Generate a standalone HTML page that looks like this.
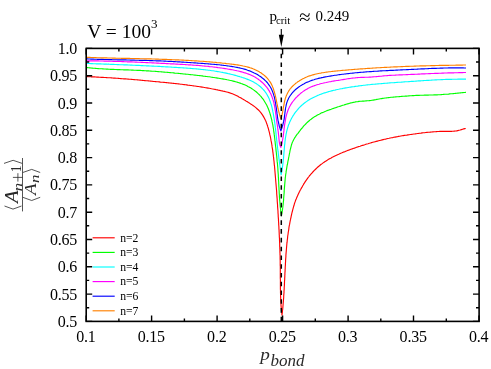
<!DOCTYPE html>
<html><head><meta charset="utf-8"><title>plot</title>
<style>html,body{margin:0;padding:0;background:#fff;}svg{display:block;will-change:transform;font-family:"Liberation Serif",serif;}text{fill:#000;}</style></head><body>
<svg width="491" height="369" viewBox="0 0 491 369">
<rect x="0" y="0" width="491" height="369" fill="#ffffff"/>
<g fill="none" stroke-width="1.15" stroke-linejoin="round" stroke-linecap="butt">
<path d="M86.2 76.6 L87.4 76.6 L88.6 76.7 L89.8 76.7 L91.0 76.8 L92.2 76.8 L93.4 76.9 L94.6 76.9 L95.8 77.0 L97.0 77.1 L98.2 77.1 L99.4 77.2 L100.6 77.3 L101.8 77.3 L103.0 77.4 L104.2 77.5 L105.4 77.5 L106.6 77.6 L107.8 77.7 L109.0 77.7 L110.2 77.8 L111.4 77.9 L112.6 78.0 L113.8 78.1 L115.0 78.1 L116.1 78.2 L117.3 78.3 L118.5 78.4 L119.7 78.5 L120.9 78.6 L122.1 78.7 L123.3 78.8 L124.5 78.8 L125.7 78.9 L126.9 79.0 L128.1 79.1 L129.3 79.2 L130.5 79.3 L131.7 79.4 L132.9 79.5 L134.1 79.6 L135.3 79.7 L136.5 79.8 L137.7 79.9 L138.9 80.0 L140.1 80.1 L141.3 80.3 L142.5 80.4 L143.7 80.5 L144.9 80.6 L146.0 80.7 L147.2 80.8 L148.4 80.9 L149.6 81.0 L150.8 81.1 L152.0 81.2 L153.2 81.4 L154.4 81.5 L155.6 81.6 L156.8 81.7 L158.0 81.8 L159.2 81.9 L160.4 82.1 L161.6 82.2 L162.8 82.3 L164.0 82.4 L165.2 82.5 L166.3 82.6 L167.5 82.8 L168.7 82.9 L169.9 83.0 L171.1 83.1 L172.3 83.3 L173.5 83.4 L174.7 83.5 L175.9 83.6 L177.1 83.8 L178.3 83.9 L179.5 84.0 L180.7 84.2 L181.9 84.3 L183.0 84.5 L184.2 84.6 L185.4 84.8 L186.6 84.9 L187.8 85.1 L189.0 85.2 L190.2 85.4 L191.4 85.5 L192.6 85.7 L193.8 85.9 L195.0 86.0 L196.2 86.2 L197.3 86.4 L198.5 86.5 L199.7 86.7 L200.9 86.9 L202.1 87.1 L203.3 87.3 L204.5 87.5 L205.7 87.7 L206.9 87.9 L208.1 88.1 L209.2 88.3 L210.4 88.5 L211.6 88.8 L212.8 89.0 L214.0 89.2 L215.1 89.4 L216.3 89.7 L217.5 89.9 L218.6 90.2 L219.8 90.4 L221.0 90.7 L222.1 90.9 L223.3 91.2 L224.4 91.4 L225.6 91.7 L226.7 92.0 L227.9 92.3 L229.0 92.6 L230.1 93.0 L231.2 93.4 L232.4 93.8 L233.5 94.2 L234.6 94.7 L235.7 95.2 L236.8 95.7 L237.9 96.3 L238.9 96.9 L240.0 97.4 L241.1 98.0 L242.2 98.7 L243.2 99.3 L244.3 99.9 L245.3 100.6 L246.3 101.2 L247.4 101.8 L248.4 102.5 L249.4 103.1 L250.4 103.8 L251.4 104.4 L252.4 105.1 L253.3 105.7 L254.3 106.4 L255.2 107.1 L256.1 107.9 L257.0 108.7 L257.9 109.5 L258.8 110.3 L259.6 111.2 L260.4 112.2 L261.2 113.1 L261.9 114.1 L262.6 115.1 L263.2 116.1 L263.8 117.1 L264.4 118.2 L264.9 119.2 L265.4 120.3 L265.9 121.3 L266.3 122.4 L266.7 123.5 L267.1 124.6 L267.5 125.7 L267.8 126.9 L268.2 128.0 L268.5 129.1 L268.8 130.3 L269.1 131.4 L269.4 132.6 L269.7 133.8 L269.9 134.9 L270.2 136.1 L270.5 137.3 L270.7 138.5 L270.9 139.7 L271.1 140.9 L271.4 142.1 L271.6 143.3 L271.8 144.5 L272.0 145.7 L272.1 146.9 L272.3 148.0 L272.5 149.2 L272.7 150.4 L272.8 151.6 L273.0 152.8 L273.1 154.0 L273.3 155.2 L273.4 156.4 L273.6 157.6 L273.7 158.8 L273.8 160.0 L274.0 161.2 L274.1 162.4 L274.2 163.6 L274.3 164.8 L274.5 166.0 L274.6 167.2 L274.7 168.4 L274.8 169.6 L274.9 170.8 L275.0 172.0 L275.1 173.2 L275.2 174.4 L275.3 175.6 L275.4 176.8 L275.5 178.0 L275.6 179.2 L275.7 180.4 L275.8 181.6 L275.9 182.7 L276.0 183.9 L276.1 185.1 L276.2 186.3 L276.3 187.5 L276.4 188.7 L276.5 189.9 L276.6 191.1 L276.7 192.3 L276.7 193.5 L276.8 194.7 L276.9 195.9 L277.0 197.1 L277.1 198.3 L277.2 199.5 L277.2 200.7 L277.3 201.9 L277.4 203.1 L277.5 204.3 L277.6 205.5 L277.6 206.7 L277.7 207.9 L277.8 209.1 L277.9 210.3 L278.0 211.5 L278.0 212.7 L278.1 213.9 L278.2 215.0 L278.2 216.2 L278.3 217.4 L278.4 218.6 L278.5 219.8 L278.5 221.0 L278.6 222.2 L278.7 223.4 L278.7 224.6 L278.8 225.8 L278.9 227.0 L278.9 228.2 L279.0 229.4 L279.1 230.6 L279.1 231.8 L279.2 233.0 L279.2 234.2 L279.3 235.4 L279.3 236.6 L279.4 237.8 L279.5 239.0 L279.5 240.2 L279.6 241.4 L279.6 242.6 L279.7 243.8 L279.7 245.0 L279.7 246.2 L279.8 247.4 L279.8 248.6 L279.9 249.8 L279.9 250.9 L279.9 252.1 L280.0 253.3 L280.0 254.5 L280.1 255.7 L280.1 256.9 L280.1 258.1 L280.1 259.3 L280.2 260.5 L280.2 261.7 L280.2 262.9 L280.2 264.1 L280.2 265.3 L280.3 266.5 L280.3 267.7 L280.3 268.9 L280.3 270.1 L280.3 271.3 L280.3 272.5 L280.3 273.7 L280.3 274.9 L280.3 276.1 L280.3 277.3 L280.3 278.5 L280.4 279.7 L280.4 280.9 L280.4 282.1 L280.4 283.3 L280.4 284.5 L280.4 285.7 L280.4 286.9 L280.4 288.1 L280.4 289.3 L280.5 290.5 L280.5 291.7 L280.5 292.9 L280.6 294.1 L280.6 295.3 L280.6 296.5 L280.7 297.7 L280.7 298.9 L280.8 300.1 L280.8 301.3 L280.9 302.5 L281.0 303.7 L281.0 304.9 L281.1 306.1 L281.2 307.3 L281.3 308.5 L281.4 309.7 L281.5 310.9 L281.7 312.1 L281.8 313.3 L281.9 314.5 L282.0 315.2 L282.1 314.0 L282.3 312.8 L282.4 311.6 L282.5 310.4 L282.7 309.3 L282.8 308.1 L282.9 306.9 L283.0 305.7 L283.1 304.5 L283.2 303.3 L283.3 302.1 L283.4 300.9 L283.5 299.7 L283.6 298.5 L283.7 297.3 L283.7 296.1 L283.8 294.9 L283.9 293.7 L284.0 292.5 L284.0 291.3 L284.1 290.1 L284.2 288.9 L284.2 287.7 L284.3 286.5 L284.4 285.3 L284.4 284.1 L284.5 282.9 L284.5 281.7 L284.6 280.5 L284.7 279.3 L284.7 278.1 L284.8 276.9 L284.8 275.7 L284.9 274.5 L284.9 273.3 L285.0 272.1 L285.1 270.9 L285.1 269.7 L285.2 268.5 L285.2 267.3 L285.3 266.1 L285.4 264.9 L285.4 263.7 L285.5 262.5 L285.6 261.3 L285.6 260.1 L285.7 258.9 L285.8 257.7 L285.9 256.5 L285.9 255.3 L286.0 254.1 L286.1 252.9 L286.2 251.7 L286.3 250.5 L286.4 249.3 L286.5 248.1 L286.6 246.9 L286.7 245.7 L286.8 244.6 L286.9 243.4 L287.1 242.2 L287.2 241.0 L287.3 239.8 L287.5 238.6 L287.6 237.4 L287.7 236.2 L287.9 235.0 L288.1 233.8 L288.2 232.6 L288.4 231.5 L288.6 230.3 L288.8 229.1 L288.9 227.9 L289.1 226.7 L289.3 225.5 L289.6 224.4 L289.8 223.2 L290.0 222.0 L290.2 220.8 L290.5 219.7 L290.7 218.5 L291.0 217.3 L291.2 216.2 L291.5 215.0 L291.7 213.8 L292.0 212.7 L292.3 211.5 L292.6 210.4 L292.9 209.2 L293.2 208.1 L293.5 206.9 L293.9 205.8 L294.2 204.7 L294.5 203.5 L294.9 202.4 L295.3 201.3 L295.7 200.1 L296.2 199.0 L296.6 197.9 L297.1 196.8 L297.6 195.7 L298.1 194.6 L298.6 193.5 L299.1 192.4 L299.7 191.3 L300.2 190.2 L300.8 189.2 L301.4 188.1 L302.0 187.1 L302.6 186.0 L303.2 185.0 L303.8 183.9 L304.5 182.9 L305.1 181.9 L305.8 180.9 L306.5 179.9 L307.2 178.9 L307.9 177.9 L308.6 177.0 L309.3 176.0 L310.1 175.1 L310.9 174.2 L311.7 173.3 L312.5 172.4 L313.3 171.5 L314.1 170.6 L315.0 169.8 L315.8 169.0 L316.7 168.1 L317.6 167.3 L318.5 166.5 L319.4 165.8 L320.3 165.0 L321.2 164.3 L322.2 163.6 L323.1 162.9 L324.1 162.2 L325.1 161.5 L326.1 160.9 L327.1 160.3 L328.1 159.6 L329.1 159.0 L330.1 158.4 L331.2 157.9 L332.2 157.3 L333.3 156.8 L334.3 156.2 L335.4 155.7 L336.5 155.2 L337.6 154.7 L338.7 154.2 L339.7 153.7 L340.8 153.2 L342.0 152.8 L343.1 152.3 L344.2 151.9 L345.3 151.4 L346.4 151.0 L347.5 150.5 L348.7 150.1 L349.8 149.7 L350.9 149.3 L352.1 148.9 L353.2 148.5 L354.4 148.1 L355.5 147.7 L356.6 147.3 L357.8 146.9 L358.9 146.5 L360.1 146.2 L361.2 145.8 L362.4 145.4 L363.5 145.1 L364.7 144.7 L365.8 144.3 L367.0 144.0 L368.1 143.7 L369.3 143.3 L370.4 143.0 L371.6 142.6 L372.8 142.3 L373.9 142.0 L375.1 141.7 L376.2 141.4 L377.4 141.1 L378.6 140.8 L379.7 140.5 L380.9 140.2 L382.1 139.9 L383.2 139.6 L384.4 139.3 L385.6 139.1 L386.8 138.8 L387.9 138.5 L389.1 138.3 L390.3 138.0 L391.5 137.8 L392.6 137.6 L393.8 137.3 L395.0 137.1 L396.2 136.9 L397.3 136.7 L398.5 136.4 L399.7 136.2 L400.9 136.0 L402.1 135.8 L403.2 135.6 L404.4 135.4 L405.6 135.2 L406.8 135.1 L408.0 134.9 L409.2 134.7 L410.3 134.5 L411.5 134.4 L412.7 134.2 L413.9 134.0 L415.1 133.9 L416.3 133.7 L417.5 133.5 L418.6 133.4 L419.8 133.2 L421.0 133.1 L422.2 132.9 L423.4 132.8 L424.6 132.7 L425.8 132.5 L427.0 132.4 L428.1 132.3 L429.3 132.2 L430.5 132.1 L431.7 132.0 L432.9 131.9 L434.1 131.8 L435.3 131.7 L436.5 131.6 L437.7 131.5 L438.8 131.5 L440.0 131.4 L441.2 131.4 L442.4 131.3 L443.6 131.3 L444.8 131.3 L446.0 131.3 L447.2 131.3 L448.3 131.3 L449.5 131.3 L450.7 131.3 L451.9 131.3 L453.1 131.2 L454.3 131.1 L455.5 131.0 L456.6 130.9 L457.8 130.6 L459.0 130.3 L460.2 130.0 L461.4 129.6 L462.6 129.2 L463.7 128.9 L464.9 128.6 L465.7 128.5" stroke="#ff0000"/>
<path d="M86.2 67.5 L87.4 67.6 L88.6 67.8 L89.8 67.9 L91.0 68.0 L92.2 68.1 L93.3 68.2 L94.5 68.3 L95.7 68.4 L96.9 68.5 L98.1 68.6 L99.3 68.7 L100.5 68.7 L101.7 68.8 L102.9 68.9 L104.1 69.0 L105.3 69.0 L106.5 69.1 L107.7 69.1 L108.9 69.2 L110.1 69.3 L111.3 69.3 L112.5 69.4 L113.7 69.4 L114.9 69.5 L116.1 69.5 L117.3 69.6 L118.5 69.6 L119.7 69.6 L120.9 69.7 L122.1 69.7 L123.3 69.8 L124.5 69.8 L125.7 69.8 L126.9 69.9 L128.1 69.9 L129.3 70.0 L130.5 70.0 L131.7 70.1 L132.9 70.1 L134.1 70.2 L135.3 70.2 L136.5 70.3 L137.7 70.3 L138.9 70.4 L140.1 70.4 L141.3 70.5 L142.5 70.6 L143.7 70.6 L144.9 70.7 L146.1 70.8 L147.3 70.8 L148.5 70.9 L149.7 71.0 L150.9 71.1 L152.1 71.2 L153.3 71.2 L154.5 71.3 L155.7 71.4 L156.9 71.5 L158.1 71.6 L159.3 71.7 L160.5 71.8 L161.7 71.9 L162.9 72.0 L164.1 72.1 L165.3 72.2 L166.5 72.3 L167.7 72.4 L168.9 72.5 L170.1 72.6 L171.3 72.7 L172.4 72.8 L173.6 72.9 L174.8 73.1 L176.0 73.2 L177.2 73.3 L178.4 73.4 L179.6 73.5 L180.8 73.6 L182.0 73.7 L183.2 73.9 L184.3 74.0 L185.5 74.1 L186.7 74.2 L187.9 74.3 L189.1 74.5 L190.3 74.6 L191.5 74.7 L192.6 74.8 L193.8 75.0 L195.0 75.1 L196.2 75.2 L197.4 75.4 L198.6 75.5 L199.8 75.6 L200.9 75.8 L202.1 75.9 L203.3 76.1 L204.5 76.2 L205.7 76.4 L206.9 76.5 L208.1 76.7 L209.3 76.8 L210.5 77.0 L211.6 77.2 L212.8 77.4 L214.0 77.5 L215.2 77.7 L216.4 77.9 L217.6 78.1 L218.8 78.3 L220.0 78.5 L221.2 78.7 L222.4 78.9 L223.6 79.1 L224.8 79.3 L226.0 79.5 L227.2 79.8 L228.4 80.0 L229.6 80.3 L230.8 80.5 L232.0 80.8 L233.1 81.1 L234.3 81.4 L235.5 81.7 L236.7 82.0 L237.8 82.4 L239.0 82.7 L240.1 83.1 L241.2 83.5 L242.4 83.9 L243.5 84.4 L244.6 84.8 L245.7 85.3 L246.8 85.8 L247.8 86.4 L248.9 86.9 L249.9 87.5 L250.9 88.1 L251.9 88.7 L252.9 89.4 L253.9 90.1 L254.8 90.8 L255.8 91.5 L256.7 92.3 L257.6 93.1 L258.4 93.9 L259.3 94.7 L260.1 95.6 L260.9 96.4 L261.6 97.3 L262.4 98.3 L263.1 99.2 L263.8 100.2 L264.4 101.2 L265.0 102.2 L265.6 103.2 L266.2 104.2 L266.8 105.3 L267.3 106.4 L267.8 107.5 L268.2 108.6 L268.7 109.7 L269.1 110.8 L269.5 112.0 L269.9 113.1 L270.2 114.3 L270.6 115.5 L270.9 116.6 L271.2 117.8 L271.5 119.0 L271.8 120.2 L272.0 121.4 L272.3 122.6 L272.5 123.7 L272.8 124.9 L273.0 126.1 L273.2 127.3 L273.4 128.5 L273.6 129.7 L273.7 130.9 L273.9 132.1 L274.1 133.3 L274.2 134.4 L274.4 135.6 L274.5 136.8 L274.7 138.0 L274.8 139.2 L274.9 140.4 L275.1 141.6 L275.2 142.8 L275.3 144.0 L275.5 145.2 L275.6 146.4 L275.8 147.5 L275.9 148.7 L276.0 149.9 L276.1 151.1 L276.3 152.3 L276.4 153.5 L276.5 154.7 L276.7 155.9 L276.8 157.1 L276.9 158.3 L277.0 159.5 L277.1 160.7 L277.2 161.9 L277.4 163.1 L277.5 164.2 L277.6 165.4 L277.7 166.6 L277.8 167.8 L277.9 169.0 L277.9 170.2 L278.0 171.4 L278.1 172.6 L278.2 173.8 L278.3 175.0 L278.3 176.2 L278.4 177.4 L278.5 178.6 L278.5 179.8 L278.6 181.0 L278.7 182.2 L278.7 183.4 L278.8 184.6 L278.8 185.8 L278.9 186.9 L279.0 188.1 L279.0 189.3 L279.1 190.5 L279.2 191.7 L279.2 192.9 L279.3 194.1 L279.4 195.3 L279.4 196.5 L279.5 197.7 L279.6 198.9 L279.7 200.1 L279.8 201.3 L279.9 202.5 L280.0 203.7 L280.1 204.9 L280.2 206.1 L280.3 207.3 L280.5 208.5 L280.6 209.7 L280.7 210.9 L280.9 212.1 L281.0 213.2 L281.2 214.4 L281.4 215.6 L281.4 215.7 L281.6 214.5 L281.9 213.3 L282.1 212.1 L282.3 210.9 L282.5 209.7 L282.6 208.5 L282.8 207.4 L282.9 206.2 L283.1 205.0 L283.2 203.8 L283.3 202.6 L283.4 201.4 L283.6 200.2 L283.6 199.0 L283.7 197.8 L283.8 196.6 L283.9 195.4 L284.0 194.3 L284.1 193.1 L284.2 191.9 L284.2 190.7 L284.3 189.5 L284.4 188.3 L284.5 187.1 L284.6 185.9 L284.7 184.7 L284.8 183.6 L284.9 182.4 L285.0 181.2 L285.1 180.0 L285.2 178.8 L285.3 177.6 L285.5 176.4 L285.6 175.2 L285.8 174.0 L286.0 172.9 L286.1 171.7 L286.3 170.5 L286.5 169.3 L286.7 168.1 L286.9 166.9 L287.1 165.7 L287.4 164.5 L287.6 163.3 L287.8 162.2 L288.0 161.0 L288.3 159.8 L288.5 158.6 L288.7 157.4 L289.0 156.2 L289.2 155.0 L289.4 153.8 L289.7 152.7 L289.9 151.5 L290.1 150.3 L290.4 149.1 L290.7 148.0 L291.0 146.8 L291.3 145.7 L291.6 144.5 L292.0 143.4 L292.4 142.3 L292.9 141.3 L293.4 140.2 L293.9 139.2 L294.5 138.2 L295.2 137.2 L295.8 136.2 L296.5 135.2 L297.2 134.2 L298.0 133.3 L298.7 132.3 L299.4 131.3 L300.2 130.4 L300.9 129.4 L301.7 128.5 L302.5 127.6 L303.2 126.6 L304.0 125.7 L304.9 124.8 L305.7 124.0 L306.5 123.1 L307.4 122.3 L308.3 121.5 L309.2 120.7 L310.1 119.9 L311.1 119.2 L312.0 118.5 L313.0 117.8 L314.0 117.1 L315.0 116.5 L316.0 115.9 L317.0 115.3 L318.0 114.7 L319.1 114.2 L320.1 113.7 L321.2 113.1 L322.3 112.6 L323.4 112.2 L324.5 111.7 L325.6 111.3 L326.7 110.8 L327.8 110.4 L328.9 110.0 L330.0 109.6 L331.2 109.2 L332.3 108.8 L333.5 108.4 L334.6 108.0 L335.8 107.6 L336.9 107.2 L338.1 106.8 L339.2 106.5 L340.4 106.1 L341.5 105.7 L342.7 105.3 L343.9 105.0 L345.0 104.6 L346.2 104.2 L347.4 103.9 L348.5 103.6 L349.7 103.2 L350.9 102.9 L352.0 102.7 L353.2 102.4 L354.4 102.2 L355.5 101.9 L356.7 101.7 L357.9 101.6 L359.0 101.4 L360.2 101.3 L361.4 101.2 L362.6 101.1 L363.8 101.1 L364.9 101.0 L366.1 100.9 L367.3 100.8 L368.5 100.7 L369.6 100.6 L370.8 100.5 L372.0 100.3 L373.2 100.1 L374.4 99.9 L375.6 99.7 L376.8 99.4 L377.9 99.2 L379.1 99.0 L380.3 98.8 L381.5 98.6 L382.7 98.4 L383.9 98.2 L385.1 98.0 L386.3 97.9 L387.4 97.7 L388.6 97.6 L389.8 97.5 L391.0 97.3 L392.2 97.2 L393.4 97.1 L394.6 97.0 L395.8 96.9 L397.0 96.8 L398.2 96.7 L399.4 96.6 L400.6 96.5 L401.8 96.4 L403.0 96.3 L404.2 96.2 L405.4 96.1 L406.6 96.1 L407.7 96.0 L408.9 95.9 L410.1 95.8 L411.3 95.7 L412.5 95.6 L413.7 95.6 L414.9 95.5 L416.1 95.4 L417.3 95.4 L418.5 95.3 L419.7 95.3 L420.9 95.2 L422.1 95.2 L423.3 95.2 L424.5 95.1 L425.7 95.1 L426.9 95.1 L428.1 95.1 L429.3 95.0 L430.5 95.0 L431.7 95.0 L432.9 95.0 L434.1 94.9 L435.3 94.9 L436.5 94.8 L437.7 94.8 L438.9 94.7 L440.1 94.7 L441.3 94.6 L442.5 94.5 L443.7 94.4 L444.9 94.3 L446.1 94.2 L447.3 94.2 L448.5 94.1 L449.7 93.9 L450.9 93.8 L452.1 93.7 L453.3 93.6 L454.4 93.5 L455.6 93.4 L456.8 93.3 L458.0 93.1 L459.2 93.0 L460.4 92.9 L461.6 92.8 L462.8 92.6 L464.0 92.5 L465.2 92.4 L466.0 92.3" stroke="#00ff00"/>
<path d="M86.2 63.4 L87.4 63.4 L88.6 63.5 L89.8 63.5 L91.0 63.6 L92.2 63.6 L93.4 63.7 L94.6 63.7 L95.8 63.8 L97.0 63.8 L98.2 63.8 L99.4 63.9 L100.6 63.9 L101.8 64.0 L103.0 64.0 L104.2 64.1 L105.4 64.1 L106.6 64.1 L107.8 64.2 L109.0 64.2 L110.2 64.3 L111.4 64.3 L112.6 64.4 L113.8 64.4 L115.0 64.5 L116.2 64.5 L117.4 64.6 L118.6 64.6 L119.8 64.7 L121.0 64.7 L122.2 64.7 L123.4 64.8 L124.6 64.8 L125.8 64.9 L127.0 64.9 L128.2 65.0 L129.4 65.0 L130.6 65.1 L131.8 65.1 L133.0 65.2 L134.2 65.2 L135.4 65.3 L136.6 65.3 L137.8 65.4 L139.0 65.4 L140.2 65.5 L141.4 65.6 L142.6 65.6 L143.8 65.7 L145.0 65.7 L146.2 65.8 L147.4 65.8 L148.6 65.9 L149.8 66.0 L151.0 66.0 L152.2 66.1 L153.4 66.1 L154.6 66.2 L155.8 66.2 L157.0 66.3 L158.2 66.4 L159.4 66.4 L160.6 66.5 L161.8 66.6 L162.9 66.6 L164.1 66.7 L165.3 66.8 L166.5 66.8 L167.7 66.9 L168.9 67.0 L170.1 67.0 L171.3 67.1 L172.5 67.2 L173.7 67.3 L174.9 67.3 L176.1 67.4 L177.3 67.5 L178.5 67.6 L179.7 67.6 L180.9 67.7 L182.1 67.8 L183.3 67.9 L184.5 68.0 L185.7 68.0 L186.9 68.1 L188.1 68.2 L189.3 68.3 L190.5 68.4 L191.7 68.5 L192.9 68.6 L194.0 68.7 L195.2 68.8 L196.4 68.9 L197.6 69.0 L198.8 69.1 L200.0 69.2 L201.2 69.4 L202.4 69.5 L203.6 69.6 L204.8 69.7 L206.0 69.9 L207.1 70.0 L208.3 70.2 L209.5 70.3 L210.7 70.5 L211.9 70.7 L213.1 70.8 L214.3 71.0 L215.4 71.2 L216.6 71.4 L217.8 71.6 L219.0 71.8 L220.2 72.0 L221.3 72.2 L222.5 72.4 L223.7 72.7 L224.9 72.9 L226.1 73.1 L227.2 73.4 L228.4 73.7 L229.6 73.9 L230.8 74.2 L231.9 74.5 L233.1 74.8 L234.3 75.1 L235.4 75.4 L236.6 75.7 L237.8 76.1 L238.9 76.4 L240.1 76.8 L241.3 77.1 L242.4 77.5 L243.6 77.9 L244.8 78.3 L245.9 78.7 L247.0 79.1 L248.2 79.6 L249.3 80.1 L250.4 80.6 L251.5 81.1 L252.6 81.6 L253.6 82.1 L254.6 82.7 L255.7 83.3 L256.7 83.9 L257.6 84.6 L258.6 85.3 L259.5 86.0 L260.4 86.7 L261.3 87.5 L262.1 88.3 L262.9 89.2 L263.7 90.0 L264.5 90.9 L265.2 91.9 L265.9 92.8 L266.5 93.8 L267.1 94.8 L267.7 95.9 L268.3 96.9 L268.8 98.0 L269.3 99.1 L269.7 100.2 L270.1 101.3 L270.5 102.5 L270.9 103.6 L271.3 104.8 L271.6 105.9 L271.9 107.1 L272.2 108.3 L272.4 109.5 L272.7 110.7 L272.9 111.9 L273.2 113.1 L273.4 114.3 L273.6 115.4 L273.8 116.6 L274.0 117.8 L274.2 119.0 L274.4 120.2 L274.6 121.4 L274.7 122.6 L274.9 123.8 L275.0 125.0 L275.2 126.2 L275.3 127.4 L275.5 128.6 L275.6 129.8 L275.7 131.0 L275.9 132.2 L276.0 133.4 L276.1 134.6 L276.2 135.8 L276.4 137.0 L276.5 138.2 L276.6 139.4 L276.8 140.6 L276.9 141.7 L277.0 142.9 L277.1 144.1 L277.3 145.3 L277.4 146.5 L277.6 147.7 L277.7 148.9 L277.9 150.1 L278.0 151.2 L278.2 152.4 L278.3 153.6 L278.5 154.8 L278.6 156.0 L278.8 157.2 L278.9 158.3 L279.1 159.5 L279.2 160.7 L279.4 161.9 L279.5 163.1 L279.7 164.3 L279.9 165.5 L280.0 166.6 L280.2 167.8 L280.3 169.0 L280.5 170.2 L280.7 171.4 L280.8 172.6 L281.0 173.8 L281.1 174.8 L281.3 173.7 L281.6 172.5 L281.8 171.4 L282.0 170.3 L282.2 169.1 L282.4 167.9 L282.5 166.8 L282.7 165.6 L282.8 164.4 L283.0 163.2 L283.1 162.0 L283.2 160.8 L283.3 159.6 L283.5 158.4 L283.6 157.2 L283.7 156.0 L283.8 154.8 L283.9 153.5 L284.0 152.3 L284.1 151.1 L284.2 149.9 L284.3 148.7 L284.4 147.4 L284.5 146.2 L284.6 145.0 L284.8 143.8 L284.9 142.5 L285.0 141.3 L285.2 140.1 L285.3 138.9 L285.5 137.7 L285.7 136.5 L285.9 135.3 L286.1 134.1 L286.4 132.9 L286.6 131.7 L286.9 130.6 L287.2 129.4 L287.5 128.3 L287.9 127.1 L288.2 126.0 L288.6 124.8 L289.1 123.7 L289.5 122.6 L290.0 121.5 L290.5 120.4 L291.1 119.3 L291.6 118.3 L292.2 117.2 L292.8 116.2 L293.5 115.2 L294.1 114.2 L294.8 113.2 L295.5 112.2 L296.2 111.3 L297.0 110.4 L297.7 109.5 L298.5 108.6 L299.3 107.7 L300.1 106.9 L301.0 106.0 L301.8 105.2 L302.7 104.5 L303.6 103.7 L304.5 103.0 L305.5 102.3 L306.4 101.6 L307.4 100.9 L308.3 100.3 L309.3 99.7 L310.3 99.1 L311.4 98.5 L312.4 97.9 L313.4 97.4 L314.5 96.9 L315.6 96.4 L316.6 95.9 L317.7 95.4 L318.8 95.0 L319.9 94.5 L321.1 94.1 L322.2 93.7 L323.3 93.3 L324.5 92.9 L325.6 92.6 L326.8 92.2 L327.9 91.9 L329.1 91.5 L330.3 91.2 L331.5 90.9 L332.6 90.6 L333.8 90.3 L335.0 90.1 L336.2 89.8 L337.4 89.5 L338.6 89.3 L339.8 89.0 L341.0 88.8 L342.2 88.6 L343.4 88.3 L344.6 88.1 L345.8 87.9 L347.0 87.7 L348.2 87.5 L349.4 87.3 L350.6 87.1 L351.8 86.9 L353.0 86.7 L354.1 86.6 L355.3 86.4 L356.5 86.2 L357.7 86.1 L358.9 85.9 L360.1 85.8 L361.3 85.6 L362.5 85.5 L363.7 85.3 L364.9 85.2 L366.1 85.0 L367.3 84.9 L368.5 84.8 L369.7 84.7 L370.9 84.5 L372.0 84.4 L373.2 84.3 L374.4 84.2 L375.6 84.1 L376.8 84.0 L378.0 83.9 L379.2 83.8 L380.4 83.7 L381.6 83.6 L382.8 83.5 L384.0 83.4 L385.1 83.3 L386.3 83.2 L387.5 83.1 L388.7 83.0 L389.9 82.9 L391.1 82.8 L392.3 82.7 L393.5 82.7 L394.7 82.6 L395.9 82.5 L397.1 82.4 L398.2 82.3 L399.4 82.2 L400.6 82.2 L401.8 82.1 L403.0 82.0 L404.2 81.9 L405.4 81.8 L406.6 81.7 L407.8 81.7 L409.0 81.6 L410.2 81.5 L411.4 81.4 L412.6 81.3 L413.7 81.3 L414.9 81.2 L416.1 81.1 L417.3 81.0 L418.5 80.9 L419.7 80.8 L420.9 80.8 L422.1 80.7 L423.3 80.6 L424.5 80.5 L425.7 80.5 L426.9 80.4 L428.1 80.3 L429.3 80.3 L430.5 80.2 L431.7 80.1 L432.9 80.0 L434.0 80.0 L435.2 79.9 L436.4 79.9 L437.6 79.8 L438.8 79.7 L440.0 79.7 L441.2 79.6 L442.4 79.6 L443.6 79.5 L444.8 79.5 L446.0 79.4 L447.2 79.4 L448.4 79.4 L449.6 79.3 L450.8 79.3 L452.0 79.3 L453.2 79.2 L454.4 79.2 L455.7 79.2 L456.9 79.2 L458.1 79.1 L459.3 79.1 L460.5 79.1 L461.7 79.1 L462.9 79.1 L464.1 79.1 L465.3 79.1 L466.0 79.1" stroke="#00ffff"/>
<path d="M86.2 60.8 L87.4 60.8 L88.6 60.8 L89.8 60.8 L91.0 60.8 L92.2 60.9 L93.4 60.9 L94.6 60.9 L95.8 60.9 L97.0 60.9 L98.2 60.9 L99.4 61.0 L100.6 61.0 L101.8 61.0 L103.0 61.0 L104.2 61.1 L105.4 61.1 L106.6 61.1 L107.8 61.1 L109.0 61.2 L110.2 61.2 L111.4 61.2 L112.6 61.3 L113.8 61.3 L115.0 61.3 L116.2 61.4 L117.4 61.4 L118.6 61.5 L119.8 61.5 L121.0 61.5 L122.2 61.6 L123.4 61.6 L124.6 61.7 L125.8 61.7 L127.0 61.8 L128.2 61.8 L129.4 61.8 L130.6 61.9 L131.8 61.9 L133.0 62.0 L134.2 62.0 L135.4 62.1 L136.6 62.1 L137.8 62.2 L139.0 62.2 L140.2 62.3 L141.4 62.4 L142.6 62.4 L143.8 62.5 L145.0 62.5 L146.2 62.6 L147.4 62.6 L148.6 62.7 L149.8 62.7 L151.0 62.8 L152.2 62.9 L153.4 62.9 L154.6 63.0 L155.8 63.0 L157.0 63.1 L158.2 63.1 L159.4 63.2 L160.6 63.3 L161.8 63.3 L163.0 63.4 L164.2 63.4 L165.4 63.5 L166.5 63.6 L167.7 63.6 L168.9 63.7 L170.1 63.8 L171.3 63.8 L172.5 63.9 L173.7 63.9 L174.9 64.0 L176.1 64.1 L177.3 64.1 L178.5 64.2 L179.7 64.3 L180.9 64.3 L182.1 64.4 L183.3 64.5 L184.5 64.5 L185.7 64.6 L186.9 64.7 L188.1 64.8 L189.3 64.8 L190.5 64.9 L191.7 65.0 L192.9 65.1 L194.1 65.2 L195.3 65.3 L196.5 65.4 L197.6 65.4 L198.8 65.5 L200.0 65.6 L201.2 65.7 L202.4 65.9 L203.6 66.0 L204.8 66.1 L206.0 66.2 L207.2 66.3 L208.4 66.4 L209.6 66.6 L210.8 66.7 L212.0 66.8 L213.2 67.0 L214.4 67.1 L215.6 67.2 L216.8 67.4 L217.9 67.6 L219.1 67.7 L220.3 67.9 L221.5 68.0 L222.7 68.2 L223.9 68.4 L225.1 68.6 L226.3 68.8 L227.5 69.0 L228.7 69.2 L229.9 69.4 L231.1 69.6 L232.3 69.8 L233.4 70.0 L234.6 70.3 L235.8 70.5 L237.0 70.8 L238.2 71.0 L239.4 71.3 L240.5 71.6 L241.7 71.9 L242.9 72.2 L244.0 72.6 L245.1 72.9 L246.3 73.3 L247.4 73.7 L248.5 74.1 L249.6 74.5 L250.7 75.0 L251.8 75.5 L252.9 76.0 L253.9 76.6 L254.9 77.1 L256.0 77.7 L257.0 78.4 L258.0 79.0 L258.9 79.7 L259.9 80.4 L260.8 81.2 L261.7 82.0 L262.6 82.8 L263.5 83.6 L264.3 84.5 L265.1 85.4 L265.9 86.3 L266.7 87.2 L267.4 88.2 L268.1 89.1 L268.7 90.1 L269.4 91.1 L269.9 92.2 L270.5 93.2 L271.0 94.3 L271.5 95.4 L271.9 96.5 L272.3 97.6 L272.7 98.7 L273.0 99.9 L273.4 101.0 L273.7 102.2 L274.0 103.3 L274.2 104.5 L274.5 105.7 L274.7 106.9 L274.9 108.1 L275.1 109.3 L275.3 110.5 L275.5 111.7 L275.6 112.9 L275.8 114.1 L276.0 115.3 L276.1 116.5 L276.3 117.8 L276.4 119.0 L276.6 120.2 L276.8 121.4 L276.9 122.6 L277.1 123.8 L277.3 125.0 L277.5 126.2 L277.6 127.4 L277.8 128.6 L277.9 129.7 L278.1 130.9 L278.3 132.1 L278.4 133.3 L278.5 134.5 L278.7 135.6 L278.8 136.8 L278.9 138.0 L279.0 139.2 L279.1 140.3 L279.2 141.5 L279.4 142.7 L279.6 143.8 L279.9 145.0 L280.3 146.2 L280.9 147.3 L280.9 147.4 L281.2 146.3 L281.5 145.1 L281.8 144.0 L282.1 142.9 L282.3 141.7 L282.5 140.5 L282.7 139.3 L282.9 138.2 L283.1 137.0 L283.3 135.8 L283.4 134.6 L283.6 133.4 L283.7 132.1 L283.9 130.9 L284.0 129.7 L284.1 128.5 L284.3 127.3 L284.4 126.1 L284.6 124.9 L284.8 123.7 L285.0 122.5 L285.2 121.3 L285.4 120.1 L285.6 118.9 L285.8 117.7 L286.1 116.5 L286.4 115.4 L286.7 114.2 L287.0 113.1 L287.4 112.0 L287.8 110.8 L288.2 109.7 L288.7 108.6 L289.2 107.6 L289.7 106.5 L290.3 105.5 L290.9 104.4 L291.6 103.4 L292.2 102.4 L292.9 101.5 L293.7 100.5 L294.4 99.6 L295.2 98.6 L296.0 97.7 L296.9 96.9 L297.7 96.0 L298.6 95.2 L299.5 94.4 L300.4 93.6 L301.3 92.8 L302.3 92.1 L303.2 91.4 L304.2 90.7 L305.2 90.1 L306.2 89.5 L307.2 88.9 L308.2 88.3 L309.3 87.8 L310.3 87.3 L311.4 86.8 L312.4 86.4 L313.5 86.0 L314.6 85.6 L315.7 85.2 L316.9 84.8 L318.0 84.5 L319.1 84.2 L320.3 83.8 L321.4 83.5 L322.6 83.3 L323.7 83.0 L324.9 82.7 L326.1 82.5 L327.3 82.2 L328.4 82.0 L329.6 81.8 L330.8 81.6 L332.0 81.3 L333.2 81.1 L334.4 80.9 L335.6 80.7 L336.8 80.5 L338.1 80.4 L339.3 80.2 L340.5 80.0 L341.7 79.8 L342.9 79.6 L344.1 79.4 L345.3 79.2 L346.5 79.0 L347.7 78.8 L348.9 78.6 L350.1 78.5 L351.3 78.3 L352.5 78.1 L353.7 78.0 L355.0 77.9 L356.2 77.7 L357.4 77.6 L358.6 77.5 L359.8 77.5 L361.0 77.4 L362.2 77.4 L363.4 77.3 L364.6 77.3 L365.7 77.2 L366.9 77.2 L368.1 77.2 L369.3 77.1 L370.5 77.1 L371.7 77.0 L372.9 76.9 L374.1 76.8 L375.3 76.7 L376.5 76.6 L377.7 76.5 L378.9 76.4 L380.1 76.3 L381.3 76.2 L382.5 76.0 L383.7 75.9 L384.9 75.8 L386.1 75.7 L387.2 75.6 L388.4 75.5 L389.6 75.4 L390.8 75.4 L392.0 75.3 L393.2 75.2 L394.4 75.2 L395.6 75.1 L396.8 75.0 L398.0 75.0 L399.2 74.9 L400.3 74.9 L401.5 74.8 L402.7 74.8 L403.9 74.7 L405.1 74.7 L406.3 74.6 L407.5 74.6 L408.7 74.5 L409.9 74.5 L411.1 74.4 L412.2 74.4 L413.4 74.3 L414.6 74.3 L415.8 74.2 L417.0 74.2 L418.2 74.1 L419.4 74.1 L420.6 74.0 L421.8 73.9 L423.0 73.9 L424.2 73.8 L425.4 73.8 L426.6 73.7 L427.7 73.7 L428.9 73.6 L430.1 73.6 L431.3 73.5 L432.5 73.5 L433.7 73.5 L434.9 73.4 L436.1 73.4 L437.3 73.3 L438.5 73.3 L439.7 73.2 L440.9 73.2 L442.1 73.1 L443.3 73.1 L444.5 73.0 L445.7 73.0 L446.9 73.0 L448.1 72.9 L449.3 72.9 L450.5 72.9 L451.7 72.8 L452.9 72.8 L454.1 72.8 L455.3 72.7 L456.5 72.7 L457.7 72.7 L458.9 72.6 L460.2 72.6 L461.4 72.6 L462.6 72.6 L463.8 72.5 L465.0 72.5 L466.0 72.5" stroke="#ff00ff"/>
<path d="M86.2 58.9 L87.4 58.9 L88.6 59.0 L89.8 59.0 L91.0 59.1 L92.2 59.1 L93.4 59.1 L94.6 59.2 L95.8 59.2 L97.0 59.3 L98.2 59.3 L99.4 59.3 L100.6 59.4 L101.8 59.4 L103.0 59.4 L104.2 59.5 L105.4 59.5 L106.6 59.5 L107.8 59.5 L109.0 59.6 L110.2 59.6 L111.4 59.6 L112.6 59.7 L113.8 59.7 L115.0 59.7 L116.2 59.7 L117.4 59.8 L118.6 59.8 L119.8 59.8 L121.0 59.8 L122.2 59.9 L123.4 59.9 L124.6 59.9 L125.8 59.9 L127.0 60.0 L128.2 60.0 L129.4 60.0 L130.6 60.1 L131.8 60.1 L133.0 60.1 L134.2 60.1 L135.4 60.2 L136.6 60.2 L137.8 60.2 L139.0 60.3 L140.2 60.3 L141.4 60.3 L142.6 60.3 L143.8 60.4 L145.0 60.4 L146.2 60.4 L147.4 60.5 L148.6 60.5 L149.8 60.6 L151.0 60.6 L152.2 60.6 L153.4 60.7 L154.6 60.7 L155.8 60.8 L157.0 60.8 L158.2 60.8 L159.4 60.9 L160.6 60.9 L161.8 61.0 L163.0 61.0 L164.2 61.1 L165.4 61.1 L166.6 61.2 L167.7 61.3 L168.9 61.3 L170.1 61.4 L171.3 61.4 L172.5 61.5 L173.7 61.6 L174.9 61.6 L176.1 61.7 L177.3 61.8 L178.5 61.8 L179.7 61.9 L180.9 62.0 L182.1 62.1 L183.3 62.1 L184.5 62.2 L185.7 62.3 L186.9 62.4 L188.1 62.5 L189.3 62.5 L190.5 62.6 L191.7 62.7 L192.9 62.8 L194.1 62.9 L195.3 62.9 L196.5 63.0 L197.7 63.1 L198.9 63.2 L200.1 63.3 L201.3 63.4 L202.5 63.4 L203.7 63.5 L204.8 63.6 L206.0 63.7 L207.2 63.8 L208.4 63.9 L209.6 64.0 L210.8 64.1 L212.0 64.2 L213.2 64.3 L214.4 64.4 L215.6 64.5 L216.8 64.6 L218.0 64.7 L219.2 64.8 L220.4 65.0 L221.6 65.1 L222.8 65.2 L224.0 65.4 L225.2 65.5 L226.4 65.7 L227.6 65.9 L228.8 66.0 L230.0 66.2 L231.2 66.4 L232.4 66.6 L233.6 66.8 L234.8 67.0 L235.9 67.2 L237.1 67.4 L238.3 67.7 L239.5 67.9 L240.7 68.2 L241.9 68.5 L243.0 68.8 L244.2 69.1 L245.3 69.4 L246.5 69.8 L247.6 70.2 L248.8 70.6 L249.9 71.0 L251.0 71.4 L252.1 71.9 L253.2 72.4 L254.2 72.9 L255.3 73.4 L256.4 74.0 L257.4 74.6 L258.4 75.2 L259.4 75.9 L260.4 76.5 L261.4 77.2 L262.3 78.0 L263.3 78.7 L264.2 79.5 L265.0 80.3 L265.9 81.2 L266.7 82.0 L267.5 82.9 L268.2 83.9 L268.9 84.8 L269.6 85.8 L270.2 86.7 L270.8 87.8 L271.3 88.8 L271.8 89.8 L272.3 90.9 L272.7 92.0 L273.1 93.1 L273.5 94.2 L273.8 95.4 L274.2 96.5 L274.5 97.7 L274.7 98.9 L275.0 100.1 L275.2 101.3 L275.4 102.5 L275.7 103.7 L275.8 104.9 L276.0 106.1 L276.2 107.3 L276.4 108.5 L276.5 109.8 L276.7 111.0 L276.9 112.2 L277.0 113.4 L277.2 114.7 L277.4 115.9 L277.5 117.1 L277.7 118.3 L277.9 119.5 L278.1 120.7 L278.4 121.8 L278.6 123.0 L278.9 124.2 L279.1 125.3 L279.4 126.5 L279.8 127.6 L280.1 128.7 L280.5 129.8 L280.9 130.9 L281.3 129.8 L281.6 128.7 L282.0 127.6 L282.3 126.4 L282.7 125.3 L283.0 124.1 L283.3 122.9 L283.6 121.7 L283.8 120.5 L284.1 119.3 L284.3 118.1 L284.4 116.9 L284.6 115.7 L284.7 114.5 L284.9 113.3 L285.0 112.1 L285.2 110.9 L285.4 109.7 L285.5 108.5 L285.7 107.3 L286.0 106.2 L286.2 105.0 L286.5 103.9 L286.8 102.7 L287.2 101.6 L287.6 100.5 L288.1 99.4 L288.6 98.3 L289.2 97.3 L289.8 96.3 L290.5 95.2 L291.2 94.3 L291.9 93.3 L292.7 92.4 L293.6 91.5 L294.4 90.6 L295.3 89.8 L296.2 89.0 L297.2 88.2 L298.1 87.5 L299.1 86.8 L300.1 86.1 L301.1 85.4 L302.2 84.8 L303.2 84.2 L304.2 83.7 L305.3 83.1 L306.3 82.6 L307.4 82.1 L308.5 81.7 L309.6 81.2 L310.7 80.8 L311.8 80.4 L312.9 80.0 L314.0 79.7 L315.1 79.3 L316.2 79.0 L317.4 78.7 L318.5 78.4 L319.6 78.1 L320.8 77.9 L321.9 77.6 L323.1 77.4 L324.3 77.1 L325.4 76.9 L326.6 76.7 L327.8 76.5 L328.9 76.3 L330.1 76.1 L331.3 75.9 L332.5 75.7 L333.7 75.5 L334.9 75.3 L336.1 75.2 L337.3 75.0 L338.5 74.8 L339.7 74.6 L340.9 74.5 L342.1 74.3 L343.3 74.2 L344.5 74.0 L345.7 73.9 L346.9 73.7 L348.1 73.6 L349.3 73.5 L350.5 73.3 L351.7 73.2 L352.9 73.1 L354.1 73.0 L355.4 72.8 L356.6 72.7 L357.8 72.6 L359.0 72.5 L360.2 72.4 L361.4 72.3 L362.6 72.2 L363.8 72.1 L365.0 72.0 L366.2 71.9 L367.4 71.8 L368.6 71.7 L369.8 71.6 L371.0 71.6 L372.2 71.5 L373.4 71.4 L374.6 71.3 L375.8 71.2 L377.0 71.2 L378.2 71.1 L379.3 71.0 L380.5 70.9 L381.7 70.9 L382.9 70.8 L384.1 70.7 L385.3 70.7 L386.5 70.6 L387.7 70.6 L388.9 70.5 L390.1 70.4 L391.3 70.4 L392.5 70.3 L393.7 70.3 L394.9 70.2 L396.1 70.1 L397.3 70.1 L398.5 70.0 L399.7 70.0 L400.9 69.9 L402.0 69.9 L403.2 69.8 L404.4 69.7 L405.6 69.7 L406.8 69.6 L408.0 69.6 L409.2 69.5 L410.4 69.5 L411.6 69.4 L412.8 69.3 L414.0 69.3 L415.2 69.2 L416.4 69.2 L417.6 69.1 L418.8 69.0 L420.0 69.0 L421.1 68.9 L422.3 68.9 L423.5 68.8 L424.7 68.8 L425.9 68.7 L427.1 68.7 L428.3 68.6 L429.5 68.5 L430.7 68.5 L431.9 68.4 L433.1 68.4 L434.3 68.3 L435.5 68.3 L436.7 68.3 L437.9 68.2 L439.1 68.2 L440.3 68.1 L441.5 68.1 L442.7 68.1 L443.9 68.0 L445.1 68.0 L446.3 68.0 L447.5 68.0 L448.7 67.9 L449.9 67.9 L451.1 67.9 L452.3 67.9 L453.5 67.9 L454.7 67.9 L455.9 67.9 L457.1 67.9 L458.3 67.9 L459.5 67.9 L460.7 67.9 L461.9 67.9 L463.1 67.9 L464.3 68.0 L465.6 68.0 L466.0 68.0" stroke="#0000ff"/>
<path d="M86.2 57.3 L87.4 57.3 L88.6 57.4 L89.8 57.4 L91.0 57.5 L92.2 57.5 L93.4 57.5 L94.6 57.6 L95.8 57.6 L97.0 57.7 L98.2 57.7 L99.4 57.7 L100.6 57.8 L101.8 57.8 L103.0 57.8 L104.2 57.9 L105.4 57.9 L106.6 57.9 L107.8 58.0 L109.0 58.0 L110.2 58.0 L111.4 58.0 L112.6 58.1 L113.8 58.1 L115.0 58.1 L116.2 58.2 L117.4 58.2 L118.6 58.2 L119.8 58.2 L121.0 58.3 L122.2 58.3 L123.4 58.3 L124.6 58.3 L125.8 58.4 L127.0 58.4 L128.2 58.4 L129.4 58.4 L130.6 58.5 L131.8 58.5 L133.0 58.5 L134.2 58.5 L135.4 58.6 L136.6 58.6 L137.8 58.6 L139.0 58.6 L140.2 58.7 L141.4 58.7 L142.6 58.7 L143.8 58.8 L145.0 58.8 L146.2 58.8 L147.4 58.8 L148.6 58.9 L149.8 58.9 L151.0 58.9 L152.2 59.0 L153.4 59.0 L154.6 59.0 L155.8 59.1 L157.0 59.1 L158.2 59.1 L159.4 59.2 L160.6 59.2 L161.8 59.3 L163.0 59.3 L164.1 59.3 L165.3 59.4 L166.5 59.4 L167.7 59.5 L168.9 59.5 L170.1 59.6 L171.3 59.6 L172.5 59.7 L173.7 59.7 L174.9 59.8 L176.1 59.8 L177.3 59.9 L178.5 59.9 L179.7 60.0 L180.9 60.0 L182.1 60.1 L183.3 60.1 L184.5 60.2 L185.7 60.3 L186.9 60.3 L188.1 60.4 L189.3 60.5 L190.5 60.5 L191.7 60.6 L192.9 60.7 L194.1 60.8 L195.3 60.8 L196.5 60.9 L197.7 61.0 L198.9 61.1 L200.1 61.2 L201.3 61.2 L202.5 61.3 L203.7 61.4 L204.9 61.5 L206.1 61.6 L207.3 61.7 L208.5 61.8 L209.7 61.9 L210.9 62.0 L212.1 62.1 L213.3 62.2 L214.5 62.3 L215.7 62.4 L216.9 62.6 L218.1 62.7 L219.3 62.8 L220.5 62.9 L221.7 63.0 L222.9 63.2 L224.1 63.3 L225.3 63.4 L226.5 63.6 L227.7 63.7 L228.9 63.8 L230.1 64.0 L231.3 64.1 L232.5 64.3 L233.7 64.4 L234.9 64.6 L236.1 64.8 L237.3 64.9 L238.5 65.1 L239.7 65.3 L240.9 65.5 L242.0 65.7 L243.2 66.0 L244.4 66.2 L245.5 66.5 L246.7 66.8 L247.9 67.1 L249.0 67.4 L250.1 67.8 L251.3 68.1 L252.4 68.5 L253.5 69.0 L254.6 69.4 L255.7 69.9 L256.7 70.4 L257.8 71.0 L258.8 71.6 L259.8 72.2 L260.9 72.8 L261.8 73.5 L262.8 74.2 L263.7 74.9 L264.7 75.7 L265.5 76.5 L266.4 77.3 L267.2 78.2 L268.0 79.1 L268.7 80.0 L269.4 81.0 L270.1 81.9 L270.7 82.9 L271.3 83.9 L271.8 85.0 L272.3 86.1 L272.7 87.1 L273.2 88.3 L273.6 89.4 L273.9 90.5 L274.3 91.7 L274.6 92.8 L274.9 94.0 L275.2 95.2 L275.5 96.4 L275.8 97.6 L276.0 98.8 L276.3 100.0 L276.5 101.3 L276.8 102.5 L277.0 103.7 L277.3 104.9 L277.5 106.1 L277.8 107.3 L278.0 108.5 L278.3 109.7 L278.6 110.9 L278.9 112.0 L279.2 113.2 L279.5 114.3 L279.8 115.5 L280.1 116.6 L280.5 117.6 L280.9 118.7 L280.9 118.8 L281.3 117.6 L281.6 116.4 L281.9 115.2 L282.2 114.0 L282.5 112.8 L282.7 111.6 L282.9 110.4 L283.1 109.2 L283.3 108.0 L283.5 106.8 L283.8 105.6 L284.0 104.4 L284.2 103.3 L284.4 102.1 L284.7 100.9 L285.0 99.8 L285.3 98.6 L285.7 97.5 L286.1 96.4 L286.5 95.3 L287.0 94.3 L287.5 93.2 L288.0 92.2 L288.6 91.2 L289.3 90.2 L289.9 89.2 L290.7 88.3 L291.4 87.4 L292.3 86.5 L293.1 85.7 L294.0 84.9 L294.9 84.1 L295.8 83.3 L296.8 82.6 L297.8 81.8 L298.8 81.2 L299.8 80.5 L300.8 79.9 L301.9 79.3 L302.9 78.7 L304.0 78.2 L305.0 77.7 L306.1 77.2 L307.2 76.8 L308.3 76.3 L309.4 75.9 L310.5 75.6 L311.6 75.2 L312.8 74.9 L313.9 74.6 L315.0 74.3 L316.2 74.0 L317.3 73.7 L318.5 73.5 L319.6 73.3 L320.8 73.1 L321.9 72.8 L323.1 72.7 L324.3 72.5 L325.5 72.3 L326.7 72.1 L327.8 72.0 L329.0 71.8 L330.2 71.7 L331.4 71.5 L332.6 71.4 L333.8 71.3 L335.0 71.1 L336.2 71.0 L337.5 70.9 L338.7 70.8 L339.9 70.7 L341.1 70.5 L342.3 70.4 L343.5 70.3 L344.7 70.2 L345.9 70.1 L347.2 70.0 L348.4 69.9 L349.6 69.8 L350.8 69.7 L352.0 69.6 L353.2 69.5 L354.4 69.4 L355.6 69.3 L356.8 69.2 L358.1 69.1 L359.3 69.0 L360.5 68.9 L361.7 68.8 L362.9 68.8 L364.1 68.7 L365.3 68.6 L366.5 68.5 L367.7 68.4 L368.9 68.3 L370.1 68.3 L371.3 68.2 L372.5 68.1 L373.7 68.0 L374.9 68.0 L376.1 67.9 L377.3 67.8 L378.5 67.7 L379.7 67.7 L380.9 67.6 L382.1 67.5 L383.3 67.5 L384.5 67.4 L385.7 67.3 L386.9 67.3 L388.0 67.2 L389.2 67.2 L390.4 67.1 L391.6 67.0 L392.8 67.0 L394.0 66.9 L395.2 66.9 L396.4 66.8 L397.6 66.8 L398.8 66.7 L400.0 66.7 L401.2 66.6 L402.4 66.6 L403.6 66.5 L404.7 66.5 L405.9 66.4 L407.1 66.4 L408.3 66.3 L409.5 66.3 L410.7 66.2 L411.9 66.2 L413.1 66.2 L414.3 66.1 L415.5 66.1 L416.7 66.0 L417.9 66.0 L419.0 66.0 L420.2 65.9 L421.4 65.9 L422.6 65.9 L423.8 65.8 L425.0 65.8 L426.2 65.8 L427.4 65.7 L428.6 65.7 L429.8 65.7 L431.0 65.6 L432.2 65.6 L433.4 65.6 L434.6 65.6 L435.8 65.5 L437.0 65.5 L438.2 65.5 L439.4 65.4 L440.6 65.4 L441.8 65.4 L443.0 65.4 L444.2 65.3 L445.4 65.3 L446.6 65.3 L447.8 65.3 L449.0 65.3 L450.2 65.2 L451.4 65.2 L452.6 65.2 L453.8 65.2 L455.0 65.2 L456.2 65.1 L457.4 65.1 L458.6 65.1 L459.8 65.1 L461.0 65.1 L462.2 65.1 L463.4 65.0 L464.7 65.0 L465.9 65.0 L466.0 65.0" stroke="#ff8000"/>
</g>
<line x1="281.3" y1="321.4" x2="281.3" y2="48.4" stroke="#000" stroke-width="1.5" stroke-dasharray="4.6 4.17" stroke-dashoffset="0"/>
<rect x="86.2" y="48.4" width="392.9" height="273.0" fill="none" stroke="#000" stroke-width="1.60"/>
<path d="M86.2 321.4 v-6.0 M86.2 48.4 v6.0 M118.9 321.4 v-3.0 M118.9 48.4 v3.0 M151.6 321.4 v-6.0 M151.6 48.4 v6.0 M184.4 321.4 v-3.0 M184.4 48.4 v3.0 M217.1 321.4 v-6.0 M217.1 48.4 v6.0 M249.8 321.4 v-3.0 M249.8 48.4 v3.0 M282.6 321.4 v-6.0 M282.6 48.4 v6.0 M315.3 321.4 v-3.0 M315.3 48.4 v3.0 M348.1 321.4 v-6.0 M348.1 48.4 v6.0 M380.8 321.4 v-3.0 M380.8 48.4 v3.0 M413.5 321.4 v-6.0 M413.5 48.4 v6.0 M446.3 321.4 v-3.0 M446.3 48.4 v3.0 M479.0 321.4 v-6.0 M479.0 48.4 v6.0 M86.2 321.4 h6.0 M479.0 321.4 h-6.0 M86.2 307.7 h3.0 M479.0 307.7 h-3.0 M86.2 294.1 h6.0 M479.0 294.1 h-6.0 M86.2 280.4 h3.0 M479.0 280.4 h-3.0 M86.2 266.8 h6.0 M479.0 266.8 h-6.0 M86.2 253.1 h3.0 M479.0 253.1 h-3.0 M86.2 239.5 h6.0 M479.0 239.5 h-6.0 M86.2 225.8 h3.0 M479.0 225.8 h-3.0 M86.2 212.2 h6.0 M479.0 212.2 h-6.0 M86.2 198.5 h3.0 M479.0 198.5 h-3.0 M86.2 184.9 h6.0 M479.0 184.9 h-6.0 M86.2 171.2 h3.0 M479.0 171.2 h-3.0 M86.2 157.6 h6.0 M479.0 157.6 h-6.0 M86.2 143.9 h3.0 M479.0 143.9 h-3.0 M86.2 130.3 h6.0 M479.0 130.3 h-6.0 M86.2 116.6 h3.0 M479.0 116.6 h-3.0 M86.2 103.0 h6.0 M479.0 103.0 h-6.0 M86.2 89.3 h3.0 M479.0 89.3 h-3.0 M86.2 75.7 h6.0 M479.0 75.7 h-6.0 M86.2 62.0 h3.0 M479.0 62.0 h-3.0 M86.2 48.4 h6.0 M479.0 48.4 h-6.0" stroke="#000" stroke-width="1.4" fill="none"/>
<g font-size="16px" letter-spacing="-0.2">
<text x="85.9" y="342.1" text-anchor="middle">0.1</text>
<text x="151.3" y="342.1" text-anchor="middle">0.15</text>
<text x="216.8" y="342.1" text-anchor="middle">0.2</text>
<text x="282.3" y="342.1" text-anchor="middle">0.25</text>
<text x="347.7" y="342.1" text-anchor="middle">0.3</text>
<text x="413.2" y="342.1" text-anchor="middle">0.35</text>
<text x="478.7" y="342.1" text-anchor="middle">0.4</text>
<text x="77.1" y="53.9" text-anchor="end">1.0</text>
<text x="77.1" y="81.2" text-anchor="end">0.95</text>
<text x="77.1" y="108.5" text-anchor="end">0.9</text>
<text x="77.1" y="135.8" text-anchor="end">0.85</text>
<text x="77.1" y="163.1" text-anchor="end">0.8</text>
<text x="77.1" y="190.4" text-anchor="end">0.75</text>
<text x="77.1" y="217.7" text-anchor="end">0.7</text>
<text x="77.1" y="245.0" text-anchor="end">0.65</text>
<text x="77.1" y="272.3" text-anchor="end">0.6</text>
<text x="77.1" y="299.6" text-anchor="end">0.55</text>
<text x="77.1" y="326.9" text-anchor="end">0.5</text>
</g>
<text x="87.2" y="38.2" font-size="19.5px">V = 100<tspan font-size="13px" dy="-10.0">3</tspan></text>
<text x="269.5" y="21.3" font-size="15px">p</text>
<text x="275.9" y="23.6" font-size="11px" textLength="14.3" lengthAdjust="spacingAndGlyphs">crit</text>
<text x="299.3" y="24.1" font-size="20.6px">≈</text>
<text x="315.4" y="21.3" font-size="15px">0.249</text>
<line x1="281.3" y1="29" x2="281.3" y2="38" stroke="#000" stroke-width="1.1"/>
<path d="M281.3 47 L278.8 34.8 L283.8 34.8 Z" fill="#000"/>
<line x1="92.6" y1="237.8" x2="114.7" y2="237.8" stroke="#ff0000" stroke-width="1.15"/>
<text x="120.2" y="241.6" font-size="11.7px">n=2</text>
<line x1="92.6" y1="252.4" x2="114.7" y2="252.4" stroke="#00ff00" stroke-width="1.15"/>
<text x="120.2" y="256.2" font-size="11.7px">n=3</text>
<line x1="92.6" y1="267.0" x2="114.7" y2="267.0" stroke="#00ffff" stroke-width="1.15"/>
<text x="120.2" y="270.8" font-size="11.7px">n=4</text>
<line x1="92.6" y1="281.6" x2="114.7" y2="281.6" stroke="#ff00ff" stroke-width="1.15"/>
<text x="120.2" y="285.4" font-size="11.7px">n=5</text>
<line x1="92.6" y1="296.2" x2="114.7" y2="296.2" stroke="#0000ff" stroke-width="1.15"/>
<text x="120.2" y="300.0" font-size="11.7px">n=6</text>
<line x1="92.6" y1="310.8" x2="114.7" y2="310.8" stroke="#ff8000" stroke-width="1.15"/>
<text x="120.2" y="314.6" font-size="11.7px">n=7</text>
<g font-style="italic">
<text x="260.3" y="359.6" font-size="17.6px" textLength="9.6" lengthAdjust="spacingAndGlyphs" style="fill:#2a2a2a">p</text>
<text x="270.6" y="365.6" font-size="17px" textLength="34" lengthAdjust="spacingAndGlyphs" style="fill:#2a2a2a">bond</text>
</g>
<g transform="translate(22.5 184.4) rotate(-90)">
<g fill="none" stroke="#2a2a2a" stroke-width="0.8">
<path d="M-27 0 L26.4 0"/>
<path d="M-21.6 -18 L-24.7 -9.5 L-21.6 -1"/>
<path d="M21.0 -18.5 L24.1 -9.4 L21.0 -0.3"/>
<path d="M-12.9 0.3 L-16.1 9.2 L-12.9 17.7"/>
<path d="M11.9 0.3 L15.0 9.2 L11.9 17.7"/>
<path d="M2.8 -4.6 L11.2 -4.6 M7.0 -9.6 L7.0 0"/>
</g>
<g font-style="italic">
<text x="-18.7" y="-4.6" font-size="19.2px" textLength="12.6" lengthAdjust="spacingAndGlyphs" style="fill:#2a2a2a">A</text>
<text x="-6.9" y="-1.0" font-size="12.2px" textLength="8.3" lengthAdjust="spacingAndGlyphs" style="fill:#2a2a2a">n</text>
<text x="12.1" y="-1.7" font-size="13.8px" font-style="normal" style="fill:#2a2a2a">1</text>
<text x="-10.6" y="13.7" font-size="17.4px" textLength="11.6" lengthAdjust="spacingAndGlyphs" style="fill:#2a2a2a">A</text>
<text x="1.3" y="16.6" font-size="13.2px" textLength="8.4" lengthAdjust="spacingAndGlyphs" style="fill:#2a2a2a">n</text>
</g>
</g>
</svg></body></html>
